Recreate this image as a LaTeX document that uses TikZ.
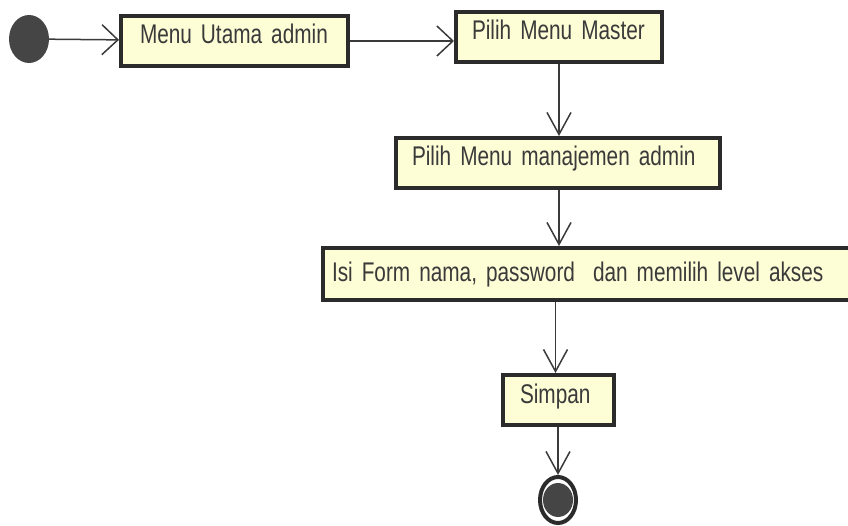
\documentclass[tikz,border=0pt]{standalone}
\usepackage{fontspec}
\usepackage{tikz}
\usetikzlibrary{arrows.meta,shapes.geometric,positioning}
\newfontfamily\actfont[FakeStretch=0.77]{Liberation Sans}
\newcommand\actlabelfont{\actfont\fontsize{27}{31}\selectfont\fontdimen2\font=5.5pt\relax}
\definecolor{actfill}{RGB}{253,253,214}
\definecolor{actline}{RGB}{43,43,43}
\definecolor{acttext}{RGB}{58,58,58}
\definecolor{flowline}{RGB}{58,58,58}
\definecolor{dotfill}{RGB}{69,69,69}

\begin{document}
\begin{tikzpicture}[x=1pt,y=1pt]
\useasboundingbox (0,0) rectangle (848,-526);
\tikzset{act/.style =
{draw = actline,
line width = 4pt,
fill = actfill,
anchor = north west,
align = left,
inner ysep = 0pt,
text height = 28pt,
text depth = 22pt,
text = acttext,
font = \actlabelfont}}
\tikzset{flowh/.style =
{draw = flowline,
line width = 1.5pt,
-{Straight Barb[length=16pt,width=30pt]}}}
\tikzset{flowv/.style =
{draw = flowline,
line width = 1.5pt,
-{Straight Barb[length=22pt,width=24pt]}}}
% start and end
\node[ellipse, fill = dotfill, inner sep = 0pt,
minimum width = 40pt, minimum height = 48pt] (start) at (29,-39) {};
\node[ellipse, draw = actline, line width = 4pt, fill = white, inner sep = 0pt,
minimum width = 36pt, minimum height = 46pt,
path picture = {\fill[dotfill] (path picture bounding box.center) ellipse (15pt and 17pt);}]
(fin) at (558,-500) {};
% activities
\node[act, inner xsep = 19pt, text width = 189pt] (menu) at (119,-14) {Menu Utama admin};
\node[act, inner xsep = 16pt, text width = 174pt] (master) at (454,-10) {Pilih Menu Master};
\node[act, inner xsep = 16pt, text width = 292pt] (manage) at (394,-136) {Pilih Menu manajemen admin};
\node[act, inner xsep = 9pt, text width = 539pt,
text height = 34pt, text depth = 18pt] (isi) at (321,-246) {Isi Form nama, password~ dan memilih level akses};
\node[act, inner xsep = 17pt, text width = 77pt] (simpan) at (501,-373) {Simpan};
% flows
\draw[flowh] (start) -- (menu);
\draw[flowh] (menu.east) -- (menu.east -| master.west);
\draw[flowv] (master.south) -- (master.south |- manage.north);
\draw[flowv] (master.south |- manage.south) -- (master.south |- isi.north);
\draw[flowv] ([xshift=-3pt]simpan.north |- isi.south) -- ([xshift=-3pt]simpan.north);
\draw[flowv] (fin.north |- simpan.south) -- (fin.north);
\end{tikzpicture}
\end{document}
